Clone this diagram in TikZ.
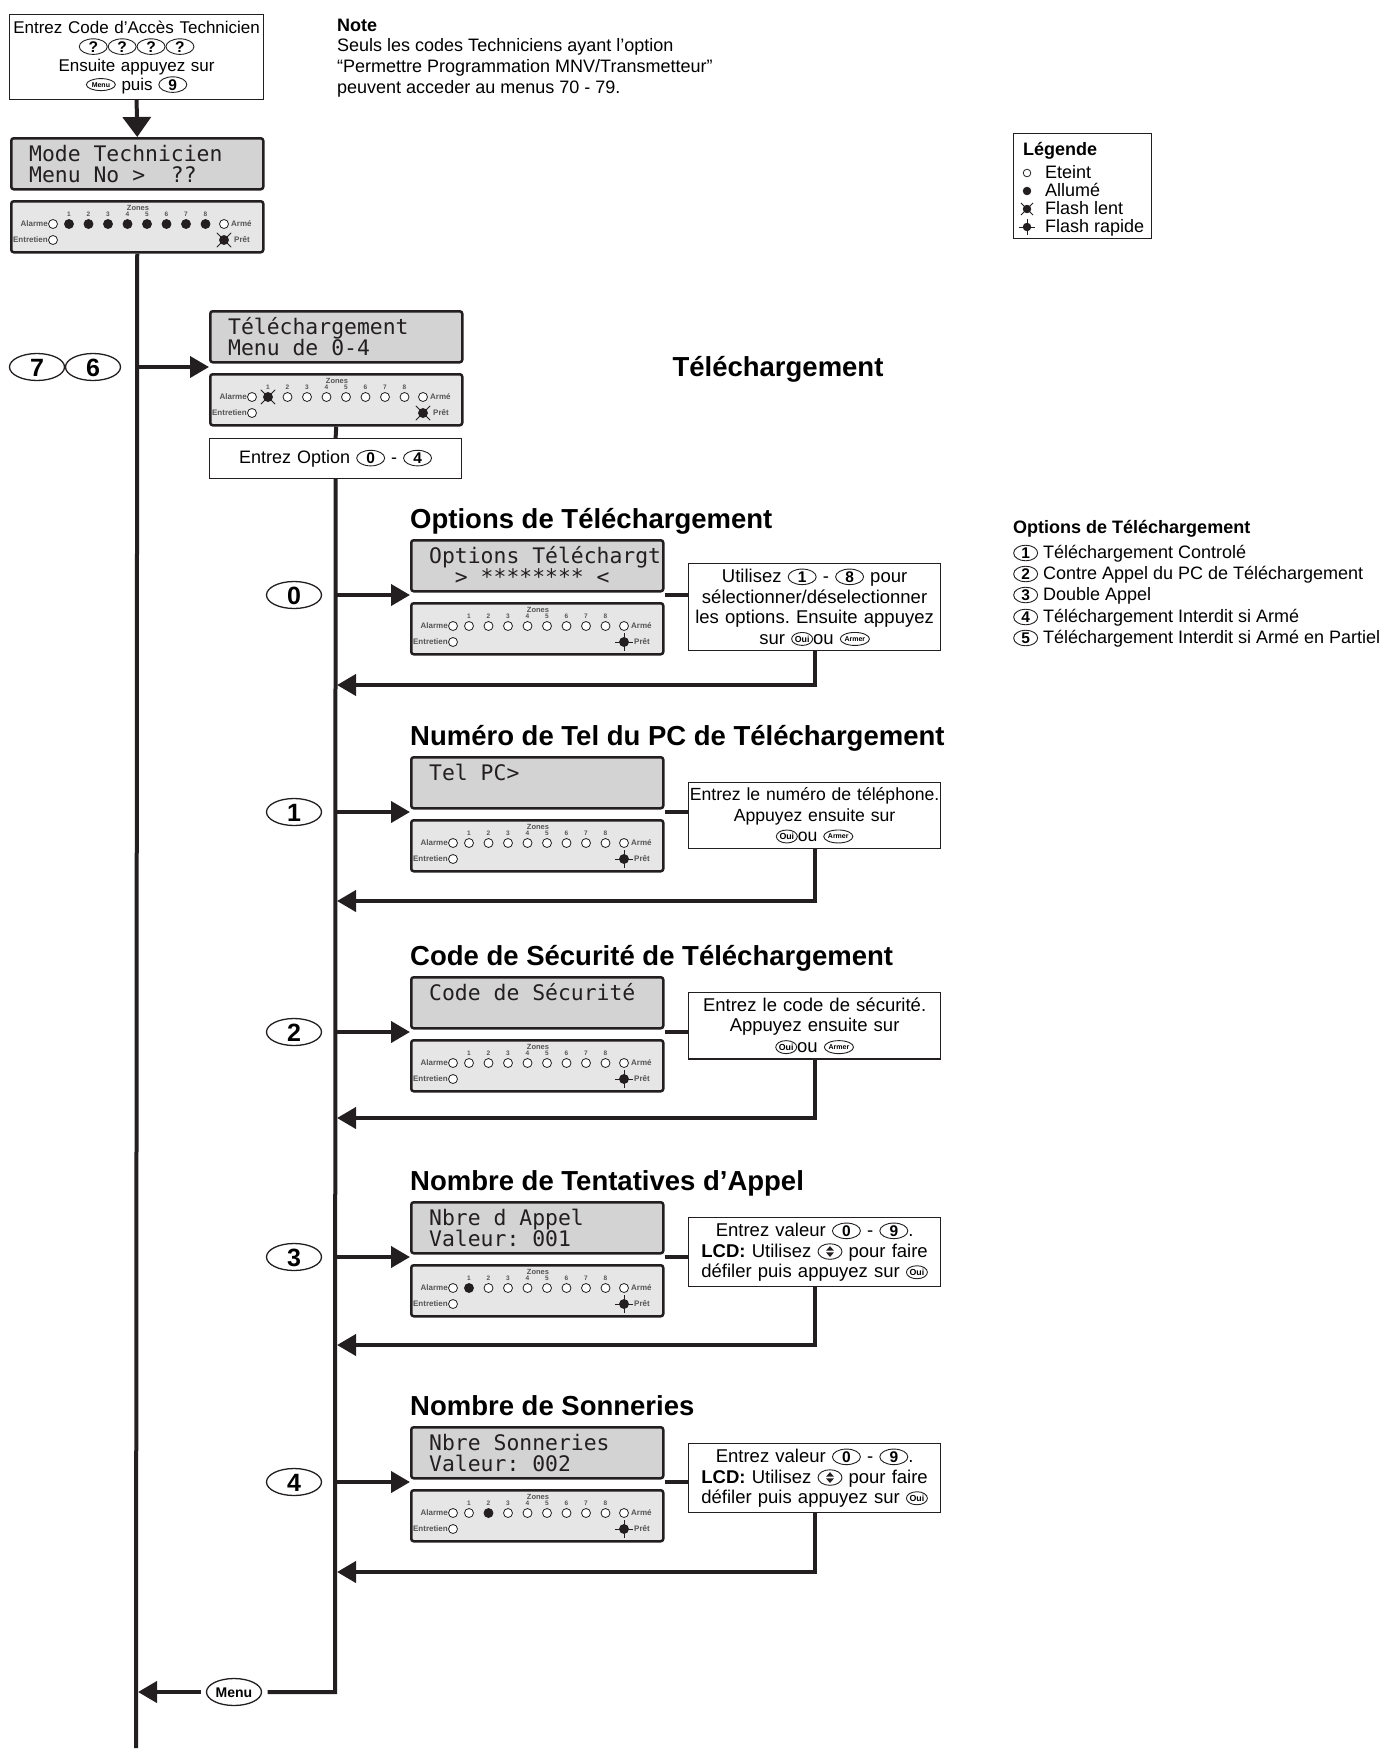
\documentclass[tikz,border=0pt]{standalone}
\usepackage{fontspec}
\setmainfont{Liberation Sans}
\newfontfamily\lcdfont{DejaVu Sans Mono}
\usetikzlibrary{arrows.meta,shapes.geometric,positioning}
\frenchspacing

\definecolor{encre}{HTML}{231F20}
\definecolor{grislcd}{HTML}{D3D3D3}
\definecolor{grispanneau}{HTML}{E6E6E6}
\definecolor{grislabel}{HTML}{555555}

\tikzset{
  ligne/.style={draw=encre, line width=4pt},
  fleche/.style={draw=encre, line width=4pt, -{Triangle[length=19pt,width=21pt]}},
  lcd/.style={draw=encre, line width=2.5pt, rounded corners=2.5pt, fill=grislcd, minimum width=252pt, minimum height=51pt, inner sep=0pt, anchor=north west},
  lcdtext/.style={anchor=base west, inner sep=0pt, text=encre, font=\lcdfont\fontsize{21.4}{21.4}\selectfont},
  panneau/.style={lcd, fill=grispanneau},
  panlabel/.style={inner sep=0pt, text=grislabel, font=\fontsize{8}{8}\selectfont\bfseries},
  ledline/.style={draw=encre, line width=0.8pt},
  boite/.style={draw=encre, line width=1.2pt, fill=white, align=center, inner xsep=2pt, inner ysep=5pt, text width=248pt, anchor=north west, font=\fontsize{18.5}{20.7}\selectfont},
  titre/.style={anchor=base west, inner sep=0pt, font=\fontsize{27.5}{30}\selectfont\bfseries},
  legtext/.style={anchor=base west, inner sep=0pt, font=\fontsize{18}{18}\selectfont},
  touche/.style={draw=encre, ellipse, inner sep=0pt, line width=0.9pt, text width={}, minimum width=28pt, minimum height=14pt, text height=11pt, text depth=0pt, font=\fontsize{15.5}{15.5}\selectfont\bfseries},
  oui/.style={minimum width=21pt, minimum height=13pt, text height=6.3pt, font=\fontsize{8.8}{8.8}\selectfont\bfseries},
  armer/.style={minimum width=24pt, minimum height=13pt, text height=5pt, font=\fontsize{7}{7}\selectfont\bfseries},
  menu/.style={minimum width=29pt, minimum height=12pt, text height=5pt, font=\fontsize{7}{7}\selectfont\bfseries},
  opt/.style={minimum width=24pt, minimum height=14pt},
  grandetouche/.style={touche, line width=1.3pt, minimum width=55pt, minimum height=27pt, text height=18pt, font=\fontsize{25}{25}\selectfont\bfseries},
}

% touche dans le texte
\newcommand{\touche}[2][]{\tikz[baseline={([yshift=-5.5pt]K.center)}]\node[touche,#1] (K) {#2};}
\newcommand{\fleches}{\tikz[baseline={([yshift=-5.5pt]K.center)}]{\node[touche, minimum width=24pt] (K) {\phantom{0}};
  \fill[encre] ([yshift=0.8pt]K.center) ++(-4pt,0pt) -- ++(8pt,0pt) -- ++(-4pt,4.6pt) -- cycle;
  \fill[encre] ([yshift=-0.8pt]K.center) ++(-4pt,0pt) -- ++(8pt,0pt) -- ++(-4pt,-4.6pt) -- cycle;}}

% LED : #1 rayon, #2 etat (0 eteint, 1 allume, 2 flash lent, 3 flash rapide), #3 x, #4 y
\newcommand{\led}[4][4.5pt]{%
  \ifcase#2
    \draw[ledline,fill=white] ({#3},{#4}) circle (#1);
  \or
    \draw[ledline,fill=encre] ({#3},{#4}) circle (#1);
  \or
    \draw[ledline] ({#3},{#4}) ++({-1.6*#1},{-1.6*#1}) -- ++({3.2*#1},{3.2*#1})
                   ({#3},{#4}) ++({-1.6*#1},{1.6*#1}) -- ++({3.2*#1},{-3.2*#1});
    \draw[ledline,fill=encre] ({#3},{#4}) circle (#1);
  \or
    \draw[ledline] ({#3},{#4}) ++({-2*#1},0pt) -- ++({4*#1},0pt)
                   ({#3},{#4}) ++(0pt,{-2*#1}) -- ++(0pt,{4*#1});
    \draw[ledline,fill=encre] ({#3},{#4}) circle (#1);
  \fi}

% panneau de LED : #1 nom, #2 x, #3 y (coin haut gauche), #4 zones 1-8, #5 Pret
\newcommand{\panneau}[5]{%
  \node[panneau] (#1) at (#2,#3) {};
  \node[panlabel, font=\fontsize{7.5}{7.5}\selectfont\bfseries] (#1z) at (#2+128,#3+8) {Zones};
  \foreach \s [count=\i] in {#4} {
    \node[panlabel, font=\fontsize{6.5}{6.5}\selectfont\bfseries] (#1n\i) at ({#2+59+19.5*(\i-1)},{#3+14}) {\i};
    \led{\s}{#2+59+19.5*(\i-1)}{#3+24}
  }
  \led{0}{#2+43}{#3+24}
  \led{0}{#2+214}{#3+24}
  \led{0}{#2+43}{#3+40}
  \led{#5}{#2+214}{#3+40}
  \node[panlabel, anchor=east] (#1al) at (#2+38,#3+24) {Alarme};
  \node[panlabel, anchor=west] (#1ar) at (#2+221,#3+24) {Armé};
  \node[panlabel, anchor=east] (#1en) at (#2+38,#3+40) {Entretien};
  \node[panlabel, anchor=west] (#1pr) at (#2+224,#3+40) {Prêt};
}

% ecran LCD : #1 nom, #2 x, #3 y (coin haut gauche), #4 ligne 1, #5 ligne 2
\newcommand{\ecran}[5]{%
  \node[lcd] (#1) at (#2,#3) {};
  \node[lcdtext] (#1a) at (#2+19,#3+24) {#4};
  \node[lcdtext] (#1b) at (#2+19,#3+45) {#5};
}

\begin{document}
\begin{tikzpicture}[x=1pt,y=-1pt]
  \useasboundingbox (0,0) rectangle (1398,1754);

  % entree en mode technicien
  \node[boite, text width=250pt, inner ysep=3pt, minimum height=85pt, font=\fontsize{17}{19}\selectfont] (haut) at (9,14)
    {Entrez Code d’Accès Technicien\\\touche{?}\touche{?}\touche{?}\touche{?}\\Ensuite appuyez sur\\\touche[menu]{Menu} puis \touche{9}};
  \ecran{eM}{10}{137}{Mode Technicien}{Menu No~>~~??}
  \panneau{pM}{10}{200}{1,1,1,1,1,1,1,1}{2}
  \draw[ligne, -{Triangle[length=20pt,width=28pt]}] (haut.south) -- (eM.north);
  \coordinate (bas) at (136,1748);
  \draw[ligne] (pM.south) -- (bas); % ligne principale

  % note
  \node[anchor=north west, inner sep=0pt, align=left, font=\fontsize{18}{20.7}\selectfont] (note) at (337,18.5)
    {\textbf{Note}\\Seuls les codes Techniciens ayant l’option\\“Permettre Programmation MNV/Transmetteur”\\peuvent acceder au menus 70 - 79.};

  % legende
  \node[draw=encre, line width=1.2pt, anchor=north west, minimum width=138pt, minimum height=105pt] (leg) at (1013,133) {};
  \node[legtext, font=\fontsize{18}{18}\selectfont\bfseries] (legt) at (1023,155.5) {Légende};
  \led[3.8pt]{0}{1027}{173} \node[legtext] (leg0) at (1045,178.5) {Eteint};
  \led[3.8pt]{1}{1027}{191} \node[legtext] (leg1) at (1045,196.5) {Allumé};
  \led[3.8pt]{2}{1027}{209} \node[legtext] (leg2) at (1045,214.5) {Flash lent};
  \led[3.8pt]{3}{1027}{227} \node[legtext] (leg3) at (1045,232.5) {Flash rapide};

  % menu 76
  \node[grandetouche] (k7) at (37,367) {7};
  \node[grandetouche] (k6) at (93,367) {6};
  \node[anchor=base, inner sep=0pt, font=\fontsize{27.5}{30}\selectfont\bfseries] (titreT) at (778,376) {Téléchargement};
  \ecran{eT}{209}{310}{Téléchargement}{Menu de 0-4}
  \panneau{pT}{209}{373}{2,0,0,0,0,0,0,0}{2}
  \coordinate (m76) at (136,367);
  \draw[fleche] (m76) -- (m76 -| eT.west);
  \node[boite, minimum height=40pt, inner ysep=0pt, font=\fontsize{18}{18}\selectfont] (opt) at (209,438) {Entrez Option \touche{0} - \touche{4}};
  \draw[ligne] (pT.south) -- (opt.north);
  \coordinate (coin) at (335,1692);
  \node[grandetouche, text height=10pt, outer sep=6pt, font=\fontsize{14}{14}\selectfont\bfseries] (menu) at (234,1692) {Menu};
  \draw[ligne] (opt.south) -- (coin) -- (menu.east);
  \draw[fleche] (menu.west) -- (138,1692);

  % liste des options
  \node[legtext, font=\fontsize{18}{18}\selectfont\bfseries] (opts) at (1013,533.5) {Options de Téléchargement};
  \node[legtext] (opt1) at (1013,558.5) {\touche[opt]{1} Téléchargement Controlé};
  \node[legtext] (opt2) at (1013,579.5) {\touche[opt]{2} Contre Appel du PC de Téléchargement};
  \node[legtext] (opt3) at (1013,600.5) {\touche[opt]{3} Double Appel};
  \node[legtext] (opt4) at (1013,622.5) {\touche[opt]{4} Téléchargement Interdit si Armé};
  \node[legtext] (opt5) at (1013,643.5) {\touche[opt]{5} Téléchargement Interdit si Armé en Partiel};

  % option 0
  \node[titre] (t0) at (410,528) {Options de Téléchargement};
  \ecran{e0}{410}{539}{Options Téléchargt}{~~>~********~<}
  \panneau{p0}{410}{602}{0,0,0,0,0,0,0,0}{3}
  \node[grandetouche] (k0) at (294,595) {0};
  \coordinate (b0) at (335,595);
  \draw[fleche] (b0) -- (b0 -| e0.west);
  \node[boite] (x0) at (688,563) {Utilisez \touche{1} - \touche{8} pour\\sélectionner/déselectionner\\les options. Ensuite appuyez\\sur \touche[oui]{Oui}ou \touche[armer]{Armer}};
  \draw[ligne] (b0 -| e0.east) -- (b0 -| x0.west);
  \coordinate (r0) at (337,685);
  \draw[fleche] (x0.south) |- (r0);

  % option 1
  \node[titre] (t1) at (410,745) {Numéro de Tel du PC de Téléchargement};
  \ecran{e1}{410}{756}{Tel PC>}{}
  \panneau{p1}{410}{819}{0,0,0,0,0,0,0,0}{3}
  \node[grandetouche] (k1) at (294,812) {1};
  \coordinate (b1) at (335,812);
  \draw[fleche] (b1) -- (b1 -| e1.west);
  \node[boite, inner xsep=1pt, text width=250pt, font=\fontsize{17.6}{20.7}\selectfont] (x1) at (688,782) {Entrez le numéro de téléphone.\\Appuyez ensuite sur\\\touche[oui]{Oui}ou \touche[armer]{Armer}};
  \draw[ligne] (b1 -| e1.east) -- (b1 -| x1.west);
  \coordinate (r1) at (337,901);
  \draw[fleche] (x1.south) |- (r1);

  % option 2
  \node[titre] (t2) at (410,965) {Code de Sécurité de Téléchargement};
  \ecran{e2}{410}{976}{Code de Sécurité}{}
  \panneau{p2}{410}{1039}{0,0,0,0,0,0,0,0}{3}
  \node[grandetouche] (k2) at (294,1032) {2};
  \coordinate (b2) at (335,1032);
  \draw[fleche] (b2) -- (b2 -| e2.west);
  \node[boite] (x2) at (688,992) {Entrez le code de sécurité.\\Appuyez ensuite sur\\\touche[oui]{Oui}ou \touche[armer]{Armer}};
  \draw[ligne] (b2 -| e2.east) -- (b2 -| x2.west);
  \coordinate (r2) at (337,1118);
  \draw[fleche] (x2.south) |- (r2);

  % option 3
  \node[titre] (t3) at (410,1190) {Nombre de Tentatives d’Appel};
  \ecran{e3}{410}{1201}{Nbre d Appel}{Valeur: 001}
  \panneau{p3}{410}{1264}{1,0,0,0,0,0,0,0}{3}
  \node[grandetouche] (k3) at (294,1257) {3};
  \coordinate (b3) at (335,1257);
  \draw[fleche] (b3) -- (b3 -| e3.west);
  \node[boite] (x3) at (688,1217) {Entrez valeur \touche{0} - \touche{9}.\\\textbf{LCD:} Utilisez \fleches{} pour faire\\défiler puis appuyez sur \touche[oui]{Oui}};
  \draw[ligne] (b3 -| e3.east) -- (b3 -| x3.west);
  \coordinate (r3) at (337,1345);
  \draw[fleche] (x3.south) |- (r3);

  % option 4
  \node[titre] (t4) at (410,1415) {Nombre de Sonneries};
  \ecran{e4}{410}{1426}{Nbre Sonneries}{Valeur: 002}
  \panneau{p4}{410}{1489}{0,1,0,0,0,0,0,0}{3}
  \node[grandetouche] (k4) at (294,1482) {4};
  \coordinate (b4) at (335,1482);
  \draw[fleche] (b4) -- (b4 -| e4.west);
  \node[boite] (x4) at (688,1443) {Entrez valeur \touche{0} - \touche{9}.\\\textbf{LCD:} Utilisez \fleches{} pour faire\\défiler puis appuyez sur \touche[oui]{Oui}};
  \draw[ligne] (b4 -| e4.east) -- (b4 -| x4.west);
  \coordinate (r4) at (337,1572);
  \draw[fleche] (x4.south) |- (r4);
\end{tikzpicture}
\end{document}
